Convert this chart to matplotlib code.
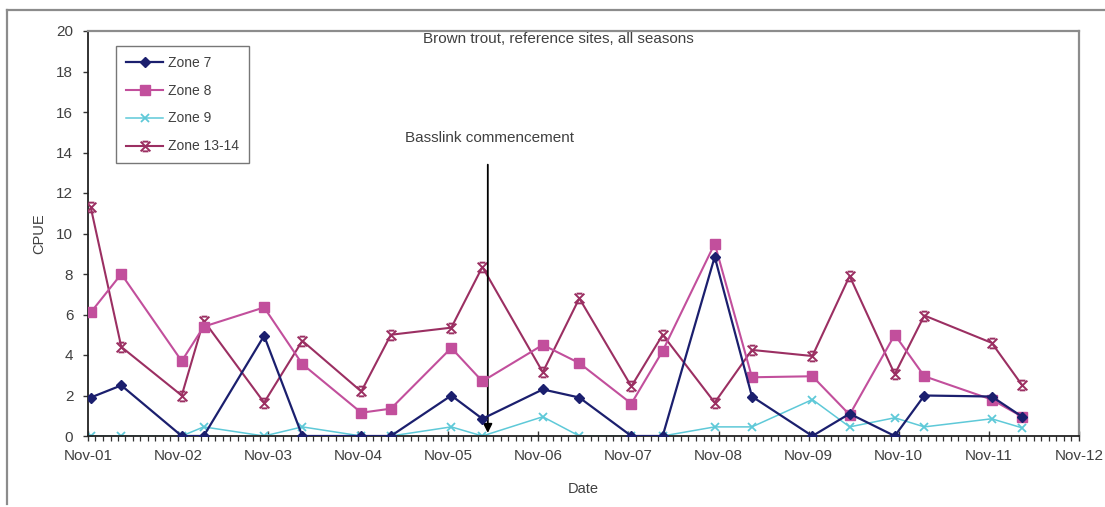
import matplotlib
matplotlib.use("Agg")
import matplotlib.pyplot as plt
import matplotlib.dates as mdates
from matplotlib.lines import Line2D
from matplotlib.path import Path
import numpy as np
import pandas as pd

# Sampling dates (one survey per spring and autumn)
sample_dates = [
    "2001-11-12", "2002-03-16", "2002-11-16", "2003-02-13", "2003-10-16",
    "2004-03-19", "2004-11-13", "2005-03-13", "2005-11-13", "2006-03-19",
    "2006-11-19", "2007-04-16", "2007-11-13", "2008-03-19", "2008-10-16",
    "2009-03-16", "2009-11-16", "2010-04-16", "2010-10-16", "2011-02-13",
    "2011-11-13", "2012-03-16",
]

# CPUE per zone
zone7 = [1.9, 2.5, 0, 0, 4.95, 0, 0, 0, 2.0, 0.85, 2.3, 1.9, 0, 0, 8.85,
         1.95, 0, 1.1, 0, 2.0, 1.95, 0.95]
zone8 = [6.1, 8.0, 3.7, 5.4, 6.35, 3.55, 1.15, 1.35, 4.35, 2.7, 4.5, 3.6,
         1.6, 4.2, 9.5, 2.9, 2.95, 1.05, 5.0, 2.95, 1.8, 0.95]
zone9 = [0, 0, 0, 0.45, 0, 0.45, 0, 0, 0.45, 0, 0.95, 0, 0, 0, 0.45, 0.45,
         1.8, 0.45, 0.9, 0.45, 0.85, 0.4]
zone13_14 = [11.3, 4.4, 2.0, 5.7, 1.65, 4.7, 2.2, 5.0, 5.35, 8.35, 3.15,
             6.8, 2.45, 5.0, 1.65, 4.25, 3.95, 7.9, 3.05, 5.95, 4.6, 2.5]

series_labels = ["Zone 7", "Zone 8", "Zone 9", "Zone 13-14"]
basslink_date = "2006-04-10"
basslink_text = "Basslink commencement"
title_text = "Brown trout, reference sites, all seasons"

dates = pd.to_datetime(sample_dates)

plt.rcParams["font.family"] = ["Liberation Sans", "DejaVu Sans"]
text_color = "#404040"

W, H = 1105, 507
fig = plt.figure(figsize=(W / 100, H / 100), dpi=100)
fig.patch.set_facecolor("white")

# Chart area border (left and top edges visible)
fig.add_artist(Line2D([7 / W, 7 / W], [3 / H, 1 - 10 / H], transform=fig.transFigure,
                      color="#8c8c8c", lw=1.6))
fig.add_artist(Line2D([7 / W, 1], [1 - 10 / H, 1 - 10 / H], transform=fig.transFigure,
                      color="#8c8c8c", lw=1.6))

left, right, top, bottom = 88, 1079, 31, 436
ax = fig.add_axes([left / W, 1 - bottom / H, (right - left) / W, (bottom - top) / H])

# Custom star marker: an X closed with short bars top and bottom
star_verts = [(-1, -1), (1, 1), (-1, 1), (1, -1),
              (-0.6, 1), (0.6, 1), (-0.6, -1), (0.6, -1)]
star_codes = [Path.MOVETO, Path.LINETO, Path.MOVETO, Path.LINETO,
              Path.MOVETO, Path.LINETO, Path.MOVETO, Path.LINETO]
star_marker = Path(star_verts, star_codes)

c7, c8, c9, c13 = "#1b1f6e", "#c24f9c", "#5ec9d8", "#9b2f62"

ax.plot(dates, zone9, color=c9, lw=1.1, marker="x", ms=6, mew=1.3,
        label=series_labels[2], zorder=2)
ax.plot(dates, zone13_14, color=c13, lw=1.5, marker=star_marker, ms=7, mew=1.4,
        mfc="none", mec=c13, label=series_labels[3], zorder=3)
ax.plot(dates, zone8, color=c8, lw=1.5, marker="s", ms=7.5, mec=c8, mfc=c8,
        label=series_labels[1], zorder=4)
ax.plot(dates, zone7, color=c7, lw=1.6, marker="D", ms=5.5, mec=c7, mfc=c7,
        label=series_labels[0], zorder=5)

ax.set_xlim(pd.Timestamp("2001-11-01"), pd.Timestamp("2012-11-01"))
ax.set_ylim(0, 20)
ax.set_yticks(np.arange(0, 21, 2))

ax.xaxis.set_major_locator(mdates.MonthLocator(bymonth=11, bymonthday=1))
ax.xaxis.set_major_formatter(mdates.DateFormatter("%b-%y"))
ax.xaxis.set_minor_locator(mdates.MonthLocator(bymonthday=1))

ax.tick_params(axis="x", which="major", direction="inout", length=7, width=1,
               pad=6, labelsize=11, labelcolor=text_color, color="#333333")
ax.tick_params(axis="x", which="minor", direction="out", length=3.5, width=0.9,
               color="#333333")
ax.tick_params(axis="y", which="major", direction="out", length=3.6, width=1,
               pad=7, labelsize=11, labelcolor=text_color, color="#333333")

for side in ("top", "right"):
    ax.spines[side].set_color("#8c8c8c")
    ax.spines[side].set_linewidth(1.6)
for side in ("left", "bottom"):
    ax.spines[side].set_color("#222222")
    ax.spines[side].set_linewidth(1.3)

ax.set_xlabel("Date", fontsize=10.5, color=text_color)
ax.set_ylabel("CPUE", fontsize=10.5, color=text_color)
ax.xaxis.set_label_coords(0.5, -0.114)
ax.yaxis.set_label_coords(-0.042, 0.5)

ax.text(0.475, 0.98, title_text, transform=ax.transAxes, ha="center",
        va="center", fontsize=11, color=text_color)

bl = pd.Timestamp(basslink_date)
ax.annotate("", xy=(bl, 0.15), xytext=(bl, 13.4),
            arrowprops=dict(arrowstyle="-|>", color="black", lw=1.3,
                            mutation_scale=13, shrinkA=0, shrinkB=0))
ax.text(pd.Timestamp("2006-04-15"), 14.7, basslink_text, ha="center",
        va="center", fontsize=11, color=text_color)

handles, labels = ax.get_legend_handles_labels()
order = [labels.index(l) for l in series_labels]
leg = ax.legend([handles[i] for i in order], [labels[i] for i in order],
                loc="upper left", bbox_to_anchor=(0.0283, 0.963),
                borderaxespad=0, fontsize=10, frameon=True, fancybox=False,
                edgecolor="#555555", labelspacing=1.0, handlelength=2.7,
                handletextpad=0.35, borderpad=0.7, labelcolor=text_color)
leg.get_frame().set_linewidth(1.0)

fig.savefig("out.png", dpi=100, facecolor="white")
